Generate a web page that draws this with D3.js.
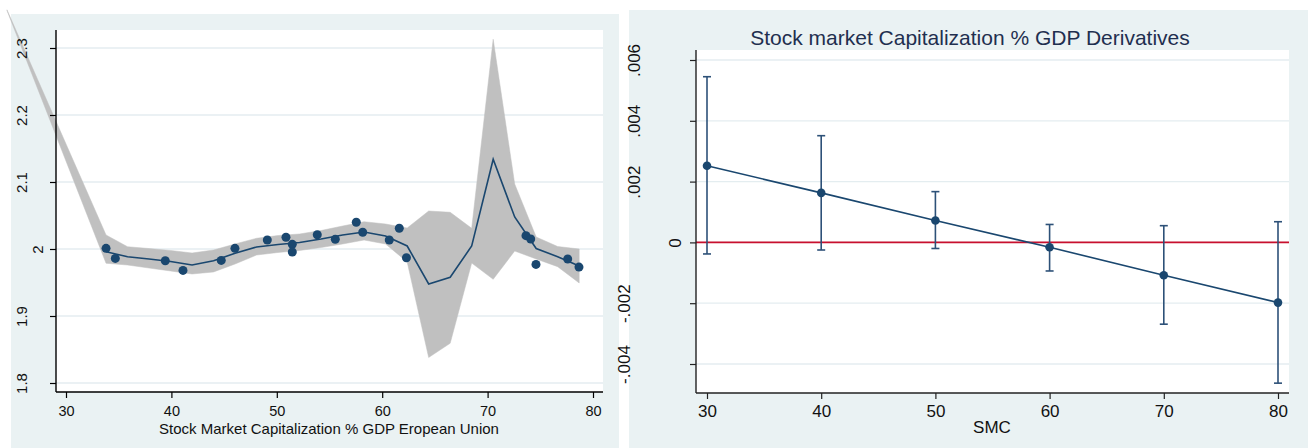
<!DOCTYPE html>
<html><head><meta charset="utf-8">
<script src="https://cdn.jsdelivr.net/npm/d3@7/dist/d3.min.js"></script>
<style>
html,body{margin:0;padding:0;background:#fff;}
svg{display:block;font-family:"Liberation Sans",Arial,sans-serif;}
</style></head>
<body>
<svg id="chart" width="1308" height="448"></svg>
<script>
// ---------- Left panel data (local polynomial fit with CI) ----------
const leftXTicks = [30, 40, 50, 60, 70, 80];
const leftYTicks = [1.8, 1.9, 2, 2.1, 2.2, 2.3];
const leftXTitle = "Stock Market Capitalization % GDP Eropean Union";

const scatterX = [33.8, 34.68, 39.42, 41.1, 44.73, 46.03, 49.1, 50.87, 51.47, 51.47, 53.84,
                  55.55, 57.54, 58.15, 60.67, 61.62, 62.3, 73.64, 74.09, 74.59, 77.6, 78.67];
const scatterY = [2.001, 1.986, 1.9825, 1.968, 1.983, 2.001, 2.0134, 2.0175, 2.007, 1.9955, 2.0213,
                  2.0145, 2.0399, 2.025, 2.0134, 2.031, 1.987, 2.0199, 2.0149, 1.977, 1.985, 1.973];

const fitX = [33.80, 35.84, 37.88, 39.92, 41.96, 44.00, 46.04, 48.08, 50.12, 52.16, 54.20, 56.24,
              58.28, 60.32, 62.37, 64.41, 66.45, 68.49, 70.53, 72.57, 74.61, 76.65, 78.69];
const fitY = [1.9960, 1.9885, 1.9851, 1.9813, 1.9761, 1.9825, 1.9936, 2.0030, 2.0067, 2.0097, 2.0149, 2.0209,
              2.0254, 2.0194, 2.0045, 1.9478, 1.9578, 2.0045, 2.1339, 2.0478, 2.0007, 1.9885, 1.9746];

const bandX = [24.4, 33.80, 35.84, 37.88, 39.92, 41.96, 44.00, 46.04, 48.08, 50.12, 52.16, 54.20, 56.24,
               58.28, 60.32, 62.37, 64.41, 66.45, 68.49, 70.53, 72.57, 74.61, 76.65, 78.69];
const bandHi = [2.357, 2.0209, 2.0034, 2.0007, 1.9978, 1.9940, 1.9985, 2.0075, 2.0160, 2.0201, 2.0224, 2.0276, 2.0343,
                2.0407, 2.0373, 2.0313, 2.0567, 2.0548, 2.0309, 2.3130, 2.0970, 2.0179, 2.0037, 2.0000];
const bandLo = [2.356, 1.9787, 1.9761, 1.9716, 1.9672, 1.9627, 1.9657, 1.9776, 1.9910, 1.9948, 1.9978, 2.0022, 2.0075,
                2.0134, 2.0075, 1.9806, 1.8381, 1.8593, 1.9791, 1.9548, 1.9970, 1.9851, 1.9736, 1.9493];

// ---------- Right panel data (marginal effects) ----------
const rightTitle = "Stock market Capitalization % GDP Derivatives";
const rightXTitle = "SMC";
const smcX = [30, 40, 50, 60, 70, 80];
const effect = [0.00252, 0.00163, 0.00072, -0.00016, -0.00108, -0.00198];
const ciHi = [0.00545, 0.00351, 0.00167, 0.00059, 0.00055, 0.00068];
const ciLo = [-0.00038, -0.00025, -0.00020, -0.00094, -0.00269, -0.00463];
const rightXTicks = [30, 40, 50, 60, 70, 80];
const rightYTicks = [-0.004, -0.002, 0, 0.002, 0.004, 0.006];
const rightYLabels = ["-.004", "-.002", "0", ".002", ".004", ".006"];

// ---------- styles ----------
const BG = "#eaf2f3", GRID = "#e4edf0", NAVY = "#1a476f", BAND = "#c0c0c0", RED = "#c8102e";

const svg = d3.select("#chart");

// ================= LEFT PANEL =================
const L = {bgX0: 11, bgX1: 619, bgY0: 14, bgY1: 448, px0: 56, px1: 603, py0: 30, py1: 392};
svg.append("rect").attr("x", L.bgX0).attr("y", L.bgY0).attr("width", L.bgX1 - L.bgX0).attr("height", L.bgY1 - L.bgY0).attr("fill", BG);
svg.append("rect").attr("x", L.px0).attr("y", L.py0).attr("width", L.px1 - L.px0).attr("height", L.py1 - L.py0).attr("fill", "#fff");

const xL = d3.scaleLinear().domain([30, 80]).range([66, 593]);
const yL = d3.scaleLinear().domain([1.8, 2.3]).range([383, 48]);

// gridlines
svg.append("g").selectAll("line").data(leftYTicks).join("line")
  .attr("x1", L.px0).attr("x2", L.px1).attr("y1", d => yL(d)).attr("y2", d => yL(d))
  .attr("stroke", GRID).attr("stroke-width", 1.3);

// band
const bandData = bandX.map((x, i) => ({x, lo: bandLo[i], hi: bandHi[i]}));
svg.append("path").datum(bandData)
  .attr("d", d3.area().x(d => xL(d.x)).y0(d => yL(d.lo)).y1(d => yL(d.hi)))
  .attr("fill", BAND).attr("stroke", BAND).attr("stroke-width", 0.5);

// fit line
svg.append("path").datum(fitX.map((x, i) => [x, fitY[i]]))
  .attr("d", d3.line().x(d => xL(d[0])).y(d => yL(d[1])))
  .attr("fill", "none").attr("stroke", NAVY).attr("stroke-width", 1.6);

// points
svg.append("g").selectAll("circle").data(scatterX.map((x, i) => [x, scatterY[i]])).join("circle")
  .attr("cx", d => xL(d[0])).attr("cy", d => yL(d[1])).attr("r", 4.5).attr("fill", NAVY);

// axes
const axL = svg.append("g").attr("transform", `translate(0,${L.py1})`)
  .call(d3.axisBottom(xL).tickValues(leftXTicks).tickSize(6).tickPadding(3).tickFormat(d3.format("d")));
axL.select(".domain").attr("d", `M${L.px0},0H${L.px1}`).attr("stroke", "#000").attr("stroke-width", 1.4);
axL.selectAll(".tick line").attr("stroke", "#000").attr("stroke-width", 1.2);
axL.selectAll(".tick text").attr("font-size", 14.5).attr("fill", "#111").attr("y", 0).attr("dy", null)
  .attr("transform", "translate(0,24)");

const ayL = svg.append("g").attr("transform", `translate(${L.px0},0)`)
  .call(d3.axisLeft(yL).tickValues(leftYTicks).tickSize(6).tickFormat(d => d3.format("")(+d.toFixed(1))));
ayL.select(".domain").attr("d", `M0,${L.py0}V${L.py1}`).attr("stroke", "#000").attr("stroke-width", 1.4);
ayL.selectAll(".tick line").attr("stroke", "#000").attr("stroke-width", 1.2);
ayL.selectAll(".tick text").attr("font-size", 15).attr("fill", "#111")
  .attr("x", null).attr("dy", null).attr("text-anchor", "middle")
  .each(function() {
    const w = this.getComputedTextLength();
    const cx = (47.8 - 1.24 * w) - L.px0;
    d3.select(this).attr("transform", `translate(${cx},0) rotate(-90)`).attr("dy", "0.36em").attr("x", 0);
  });

svg.append("text").attr("x", 329).attr("y", 433.5).attr("text-anchor", "middle")
  .attr("font-size", 15).attr("fill", "#111").text(leftXTitle);

// ================= RIGHT PANEL =================
const R = {bgX0: 629, bgX1: 1308, bgY0: 10, bgY1: 448, px0: 696, px1: 1289, py0: 50, py1: 393};
svg.append("rect").attr("x", R.bgX0).attr("y", R.bgY0).attr("width", R.bgX1 - R.bgX0).attr("height", R.bgY1 - R.bgY0).attr("fill", BG);
svg.append("rect").attr("x", R.px0).attr("y", R.py0).attr("width", R.px1 - R.px0).attr("height", R.py1 - R.py0).attr("fill", "#fff");

const xR = d3.scaleLinear().domain([30, 80]).range([707, 1278]);
const yR = d3.scaleLinear().domain([-0.004, 0.006]).range([364, 60]);

svg.append("g").selectAll("line").data(rightYTicks).join("line")
  .attr("x1", R.px0).attr("x2", R.px1).attr("y1", d => yR(d)).attr("y2", d => yR(d))
  .attr("stroke", GRID).attr("stroke-width", 1.3);

// zero reference line
svg.append("line").attr("x1", R.px0).attr("x2", R.px1).attr("y1", yR(0)).attr("y2", yR(0))
  .attr("stroke", RED).attr("stroke-width", 1.6);

// error bars
const eb = svg.append("g").selectAll("g").data(smcX.map((x, i) => ({x, lo: ciLo[i], hi: ciHi[i]}))).join("g")
  .attr("stroke", "#2d5178").attr("stroke-width", 1.6);
eb.append("line").attr("x1", d => xR(d.x)).attr("x2", d => xR(d.x)).attr("y1", d => yR(d.lo)).attr("y2", d => yR(d.hi));
eb.append("line").attr("x1", d => xR(d.x) - 4).attr("x2", d => xR(d.x) + 4).attr("y1", d => yR(d.lo)).attr("y2", d => yR(d.lo));
eb.append("line").attr("x1", d => xR(d.x) - 4).attr("x2", d => xR(d.x) + 4).attr("y1", d => yR(d.hi)).attr("y2", d => yR(d.hi));

svg.append("path").datum(smcX.map((x, i) => [x, effect[i]]))
  .attr("d", d3.line().x(d => xR(d[0])).y(d => yR(d[1])))
  .attr("fill", "none").attr("stroke", NAVY).attr("stroke-width", 1.6);
svg.append("g").selectAll("circle").data(smcX.map((x, i) => [x, effect[i]])).join("circle")
  .attr("cx", d => xR(d[0])).attr("cy", d => yR(d[1])).attr("r", 4.3).attr("fill", NAVY);

const axR = svg.append("g").attr("transform", `translate(0,${R.py1})`)
  .call(d3.axisBottom(xR).tickValues(rightXTicks).tickSize(6).tickFormat(d3.format("d")));
axR.select(".domain").attr("d", `M${R.px0},0H${R.px1}`).attr("stroke", "#222").attr("stroke-width", 1.4);
axR.selectAll(".tick line").attr("stroke", "#222").attr("stroke-width", 1.2);
axR.selectAll(".tick text").attr("font-size", 17).attr("fill", "#111").attr("y", 0).attr("dy", null)
  .attr("transform", "translate(0,24)");

const ayR = svg.append("g").attr("transform", `translate(${R.px0},0)`)
  .call(d3.axisLeft(yR).tickValues(rightYTicks).tickSize(6).tickFormat((d, i) => rightYLabels[i]));
ayR.select(".domain").attr("d", `M0,${R.py0}V${R.py1}`).attr("stroke", "#222").attr("stroke-width", 1.4);
ayR.selectAll(".tick line").attr("stroke", "#222").attr("stroke-width", 1.2);
ayR.selectAll(".tick text").attr("font-size", 17).attr("fill", "#111")
  .attr("x", null).attr("dy", null).attr("text-anchor", "middle")
  .each(function() {
    const w = this.getComputedTextLength();
    const cx = (692 - 1.76 * w) - R.px0;
    d3.select(this).attr("transform", `translate(${cx},0) rotate(-90)`).attr("dy", "0.36em").attr("x", 0);
  });

svg.append("text").attr("x", 992).attr("y", 433).attr("text-anchor", "middle")
  .attr("font-size", 17).attr("fill", "#111").text(rightXTitle);
svg.append("text").attr("x", 970).attr("y", 45).attr("text-anchor", "middle")
  .attr("font-size", 21).attr("fill", "#1f2f4f").text(rightTitle);
</script>
</body></html>
